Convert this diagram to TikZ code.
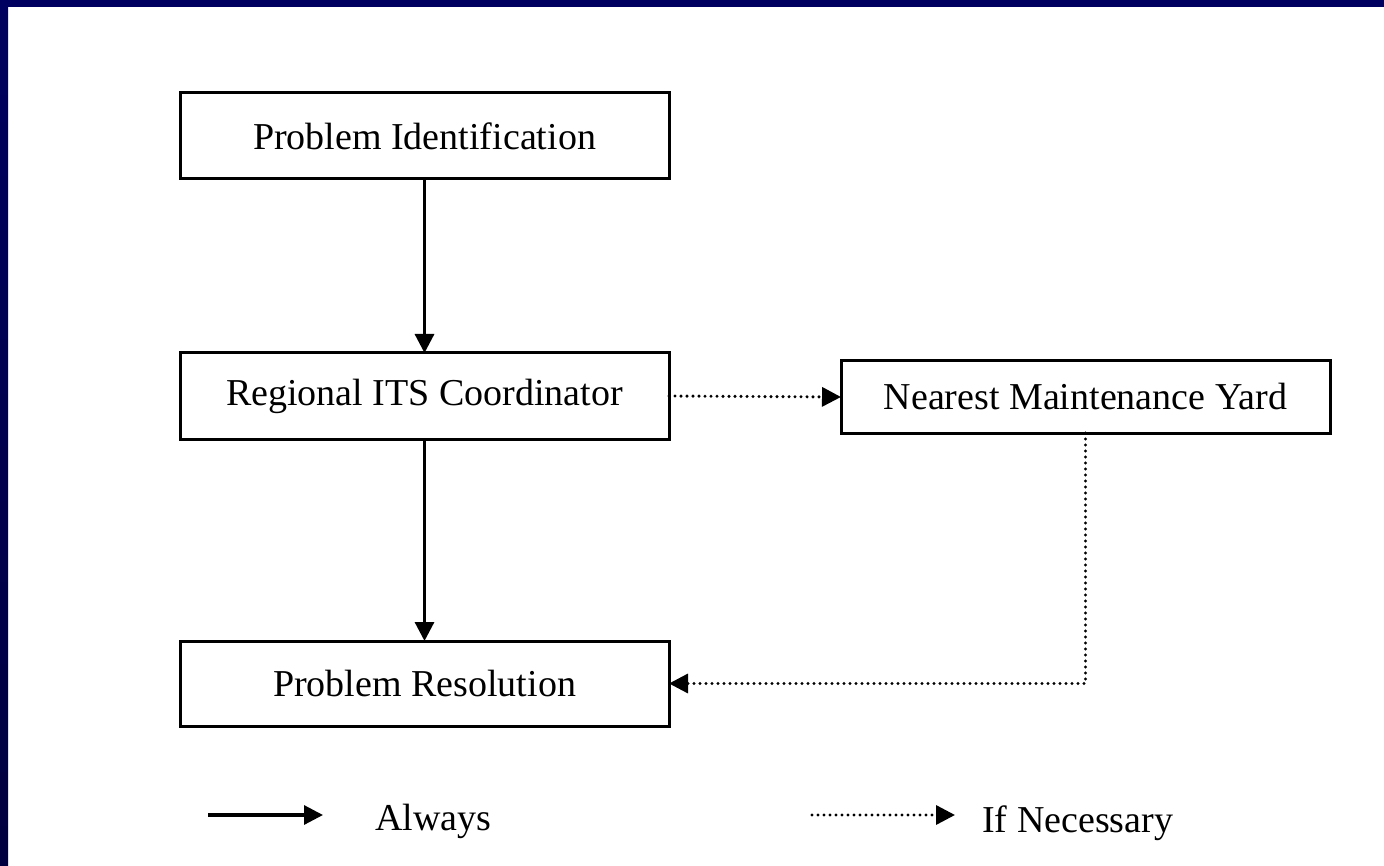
\documentclass[tikz,border=0pt]{standalone}
\usepackage{fontspec}
\setmainfont{Liberation Serif}
\usetikzlibrary{arrows.meta}
\definecolor{navy}{RGB}{0,0,96}
\definecolor{navydark}{RGB}{0,0,64}
\tikzset{
  box/.style={draw=black, line width=3pt, minimum width=489pt, inner sep=0pt, outer sep=0pt,
    font=\fontsize{38}{45}\selectfont},
  always/.style={line width=3.2pt, -{Triangle[length=19pt,width=19pt]}},
  ifnec/.style={line width=3.4pt, line cap=round, dash pattern=on 0pt off 6pt, -{Triangle[length=19pt,width=19pt]}},
  legend/.style={font=\fontsize{38}{45}\selectfont, inner sep=0pt}
}
\begin{document}
\begin{tikzpicture}[x=1pt,y=-1pt]
\useasboundingbox (0,0) rectangle (1384,866);
\fill[white] (0,0) rectangle (1384,866);
\shade[top color=navy, bottom color=navydark] (0,0) rectangle (8,866);
\fill[navy] (0,0) rectangle (1384,7);
\node[box, minimum height=86pt] (b1) at (424.5,136) {Problem Identification};
\node[box, minimum height=86pt] (b2) at (424.5,396) {Regional ITS Coordinator};
\node[box, minimum height=72pt] (b3) at (1085.5,397) {Nearest Maintenance Yard};
\node[box, minimum height=85pt] (b4) at (424.5,683.5) {Problem Resolution};
\draw[always] (b1.south) -- (b2.north);
\draw[always] (b2.south) -- (b4.north);
\draw[ifnec] (b2.east) -- (b3.west);
\draw[ifnec] (b3.south) |- (b4.east);
\coordinate (l1s) at (208,815);
\coordinate (l1e) at (323,815);
\draw[always] (l1s) -- (l1e);
\node[legend, anchor=base west] (lalways) at (375,830) {Always};
\coordinate (l2s) at (812,815);
\coordinate (l2e) at (955,815);
\draw[ifnec] (l2s) -- (l2e);
\node[legend, anchor=base west] (lifnec) at (982,832) {If Necessary};
\end{tikzpicture}
\end{document}
